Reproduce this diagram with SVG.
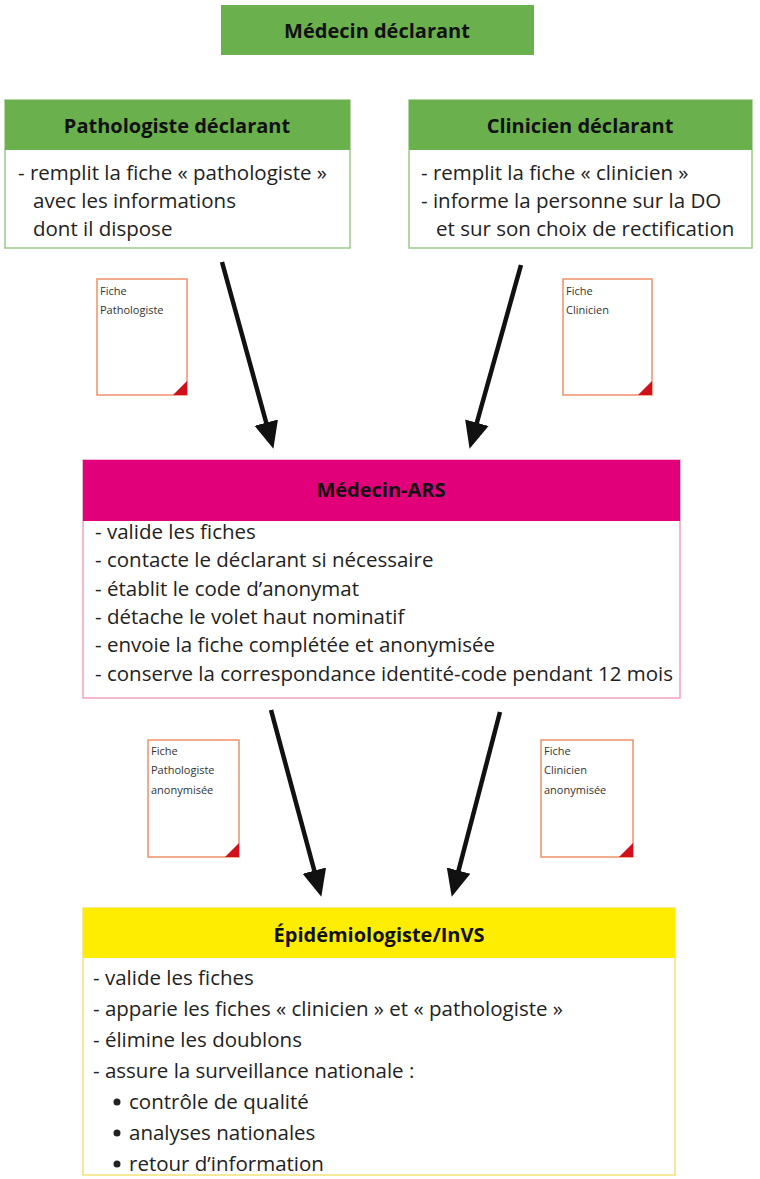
<svg xmlns="http://www.w3.org/2000/svg" width="760" height="1179" viewBox="0 0 760 1179">
<style>
.h{font-family:"Open Sans","Liberation Sans",sans-serif;font-weight:bold;font-size:20px;fill:#111;text-anchor:middle}
.t{font-family:"Open Sans","Liberation Sans",sans-serif;font-size:20.5px;fill:#222}
.s{font-family:"Open Sans","Liberation Sans",sans-serif;font-size:11px;fill:#333}
.g{fill:#6ab04c}
.doc{fill:#fff;stroke:#f0906a;stroke-width:1.5}
.c{stroke:#111;stroke-width:4.5;fill:none;marker-end:url(#a)}
</style>
<defs>
<marker id="a" markerWidth="6" markerHeight="6" refX="4" refY="3" orient="auto" markerUnits="strokeWidth"><path d="M0,0.3 L6,3 L0,5.7 z" fill="#111"/></marker>
</defs>
<rect width="760" height="1179" fill="#fff"/>
<g id="medecin-declarant"><rect class="g" x="221" y="5" width="313" height="50"/><text class="h" x="377" y="38">Médecin déclarant</text></g>
<g id="pathologiste"><rect x="5" y="100" width="345" height="148" fill="#fff" stroke="#9cc98a" stroke-width="1.5"/><rect class="g" x="5" y="100" width="345" height="50"/><text class="h" x="177" y="133">Pathologiste déclarant</text>
<text class="t" x="18" y="180">- remplit la fiche « pathologiste »</text><text class="t" x="33" y="208">avec les informations</text><text class="t" x="33" y="236">dont il dispose</text></g>
<g id="clinicien"><rect x="409" y="100" width="343" height="148" fill="#fff" stroke="#9cc98a" stroke-width="1.5"/><rect class="g" x="409" y="100" width="343" height="50"/><text class="h" x="580" y="133">Clinicien déclarant</text>
<text class="t" x="421" y="180">- remplit la fiche « clinicien »</text><text class="t" x="421" y="208">- informe la personne sur la DO</text><text class="t" x="436" y="236">et sur son choix de rectification</text></g>
<g id="fiche-patho"><rect class="doc" x="97" y="279" width="90" height="116"/><path d="M187,381 L187,395 L173,395 z" fill="#d0101a"/><text class="s" x="100" y="295">Fiche</text><text class="s" x="100" y="314">Pathologiste</text></g>
<g id="fiche-clin"><rect class="doc" x="563" y="279" width="89" height="116"/><path d="M652,381 L652,395 L638,395 z" fill="#d0101a"/><text class="s" x="566" y="295">Fiche</text><text class="s" x="566" y="314">Clinicien</text></g>
<g id="ars"><rect x="83" y="460" width="597" height="238" fill="#fff" stroke="#f0a0c0" stroke-width="1.5"/><rect x="83" y="460" width="597" height="61" fill="#e2007a"/><text class="h" x="381" y="497">Médecin-ARS</text>
<text class="t" x="95" y="539">- valide les fiches</text><text class="t" x="95" y="567">- contacte le déclarant si nécessaire</text><text class="t" x="95" y="596">- établit le code d’anonymat</text><text class="t" x="95" y="624">- détache le volet haut nominatif</text><text class="t" x="95" y="652">- envoie la fiche complétée et anonymisée</text><text class="t" x="95" y="681" textLength="578" lengthAdjust="spacingAndGlyphs">- conserve la correspondance identité-code pendant 12 mois</text></g>
<g id="fiche-patho-anon"><rect class="doc" x="148" y="740" width="91" height="117"/><path d="M239,843 L239,857 L225,857 z" fill="#d0101a"/><text class="s" x="151" y="755">Fiche</text><text class="s" x="151" y="774">Pathologiste</text><text class="s" x="151" y="794">anonymisée</text></g>
<g id="fiche-clin-anon"><rect class="doc" x="541" y="740" width="92" height="117"/><path d="M633,843 L633,857 L619,857 z" fill="#d0101a"/><text class="s" x="544" y="755">Fiche</text><text class="s" x="544" y="774">Clinicien</text><text class="s" x="544" y="794">anonymisée</text></g>
<g id="invs"><rect x="83" y="908" width="592" height="267" fill="#fff" stroke="#f5e27a" stroke-width="1.5"/><rect x="83" y="908" width="592" height="50" fill="#ffed00"/><text class="h" x="379" y="942">Épidémiologiste/InVS</text>
<text class="t" x="93" y="985">- valide les fiches</text><text class="t" x="93" y="1016">- apparie les fiches « clinicien » et « pathologiste »</text><text class="t" x="93" y="1047">- élimine les doublons</text><text class="t" x="93" y="1078">- assure la surveillance nationale :</text>
<circle cx="117" cy="1102" r="3.5" fill="#222"/><text class="t" x="129" y="1109">contrôle de qualité</text>
<circle cx="117" cy="1133" r="3.5" fill="#222"/><text class="t" x="129" y="1140">analyses nationales</text>
<circle cx="117" cy="1164" r="3.5" fill="#222"/><text class="t" x="129" y="1171">retour d’information</text></g>
<g id="connectors">
<line class="c" x1="222" y1="262" x2="271" y2="440"/>
<line class="c" x1="521" y1="265" x2="472" y2="440"/>
<line class="c" x1="271" y1="710" x2="319" y2="888"/>
<line class="c" x1="500" y1="712" x2="454" y2="888"/>
</g>
</svg>
